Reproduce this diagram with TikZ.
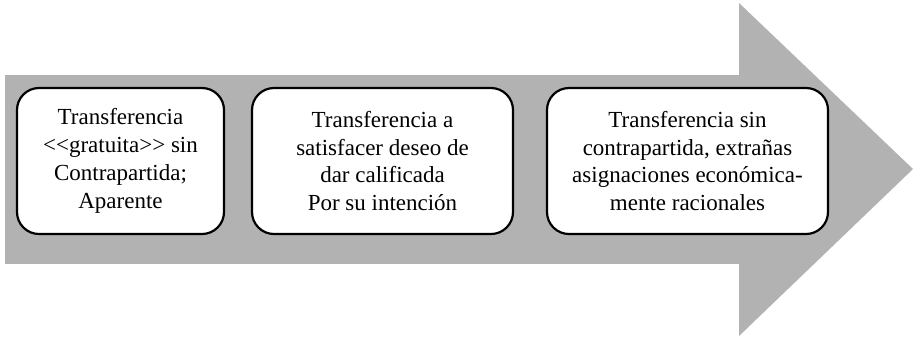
\documentclass[tikz,border=0pt]{standalone}
\usepackage{fontspec}
\setmainfont{Liberation Serif}
\begin{document}
\begin{tikzpicture}[x=0.5pt, y=-0.5pt,
    stepbox/.style={shape=rectangle, draw, fill=white, rounded corners=11pt, line width=1.1pt,
      align=center, inner sep=0pt, minimum height=73pt, font=\fontsize{11.5}{13.9}\selectfont}]
  \useasboundingbox (0,0) rectangle (914,339);

  % big arrow
  \fill[gray!60] (5,75) rectangle (740,264);
  \fill[gray!60] (739,3) -- (739,336) -- (913,169) -- cycle;

  \node[stepbox, minimum width=103.5pt] (t1) at (120.5,161) {Transferencia\\ <\kern0pt<gratuita>\kern0pt> sin\\ Contrapartida;\\ Aparente};
  \node[stepbox, minimum width=130.5pt] (t2) at (382.5,161) {Transferencia a\\ satisfacer deseo de\\ dar calificada\\ Por su intención};
  \node[stepbox, minimum width=140.5pt] (t3) at (687.5,161) {Transferencia sin\\ contrapartida, extrañas\\ asignaciones económica-\\ mente racionales};
\end{tikzpicture}
\end{document}
